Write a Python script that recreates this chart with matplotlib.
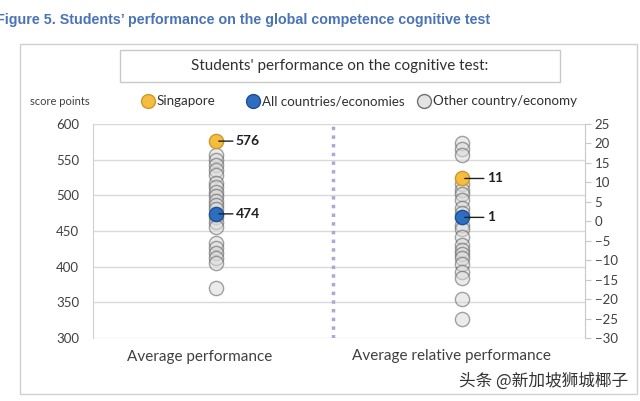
import matplotlib
matplotlib.use("Agg")
import matplotlib.pyplot as plt
from matplotlib.patches import Rectangle

plt.rcParams['font.family'] = ['Lato', 'DejaVu Sans']

# data
categories = ["Average performance", "Average relative performance"]
left_others = [556, 549, 542, 535, 528, 517, 511, 505, 499, 492, 487, 481,
               470, 463, 456, 433, 426, 419, 412, 405, 370]
left_sgp = 576
left_all = 474
right_others = [20, 18.5, 17, 9.5, 8, 7, 5.5, 3.5, 2, -1, -2, -4, -6, -7.5,
                -8.5, -9.5, -11, -13, -14.5, -20, -25]
right_sgp = 11
right_all = 1
left_ticks = [300, 350, 400, 450, 500, 550, 600]
right_ticks = list(range(-30, 30, 5))

grey_face = (0.85, 0.85, 0.85, 0.5)
grey_edge = (0.3, 0.3, 0.3, 0.5)
yellow = "#f5bd3f"
blue = "#2e6ec2"
txt = "#404040"

fig = plt.figure(figsize=(6.4, 4.01), dpi=100)

# outer frame and inner title box
fig.patches.append(Rectangle((20/640, 1-394/401), 617/640, 350/401, transform=fig.transFigure,
                             fill=False, edgecolor="#d0d0d0", linewidth=1))
fig.patches.append(Rectangle((120/640, 1-82/401), 440/640, 32/401, transform=fig.transFigure,
                             fill=False, edgecolor="#c8c8c8", linewidth=1))

fig.text(-0.006, 1-20/401, "Figure 5. Students\u2019 performance on the global competence cognitive test",
         fontsize=10.3, fontweight="bold", color="#4a74b5", va="center",
         family=["Liberation Sans", "DejaVu Sans"])
fig.text(340/640, 1-66/401, "Students' performance on the cognitive test:", fontsize=11,
         color="#303030", ha="center", va="center")

ax = fig.add_axes([93/640, 1-338/401, 492/640, 214/401])
ax.set_xlim(0, 1)
ax.set_ylim(300, 600)
ax.set_yticks(left_ticks)
ax.tick_params(axis="y", length=0, labelsize=9.5, labelcolor=txt, pad=10)
ax.set_xticks([])
for s in ["top", "right", "bottom"]:
    ax.spines[s].set_visible(False)
ax.spines["left"].set_color("#d0d0d0")
ax.grid(axis="y", color="#d9d9d9", linewidth=1)
ax.set_axisbelow(True)
ax.axvline(0.488, color="#a9a9d6", linewidth=2.5, linestyle=(0, (1, 1.5)))

ax2 = ax.twinx()
ax2.set_ylim(-30, 25)
ax2.set_yticks(right_ticks)
ax2.tick_params(axis="y", length=4, color="#c8c8c8", labelsize=9.5, labelcolor=txt, pad=3)
for s in ["top", "left", "bottom"]:
    ax2.spines[s].set_visible(False)
ax2.spines["right"].set_color("#c8c8c8")

ms = 105
ax.scatter([0.25] * len(left_others), left_others, s=ms, facecolor=grey_face,
           edgecolor=grey_edge, linewidth=1, zorder=3)
ax2.scatter([0.75] * len(right_others), right_others, s=ms, facecolor=grey_face,
            edgecolor=grey_edge, linewidth=1, zorder=3)

for a, x, v, c, ec in [(ax, 0.25, left_sgp, yellow, "#c99a2c"), (ax, 0.25, left_all, blue, "#1f4f8f"),
                       (ax2, 0.75, right_sgp, yellow, "#c99a2c"), (ax2, 0.75, right_all, blue, "#1f4f8f")]:
    a.scatter([x], [v], s=ms, facecolor=c, edgecolor=ec, linewidth=1, zorder=4)
    a.annotate(f"{v:g}", xy=(x, v), xytext=(x + 0.04 + (0.01 if a is ax2 else 0), v),
               fontsize=10, fontweight="bold", color="#202020", va="center",
               arrowprops=dict(arrowstyle="-", color="#202020", lw=1, shrinkA=0, shrinkB=2), zorder=5)

# category labels below
fig.text(200/640, 1-357/401, categories[0], fontsize=11, color=txt, ha="center", va="center")
fig.text(451/640, 1-356/401, categories[1], fontsize=11, color=txt, ha="center", va="center")

# legend row
fig.text(30/640, 1-102/401, "score points", fontsize=8, color=txt, va="center")
for x0, c, ec, lab in [(148, yellow, "#c99a2c", "Singapore"), (253, blue, "#1f4f8f", "All countries/economies"),
                       (424, "#e4e4e4", "#707070", "Other country/economy")]:
    fig.add_artist(plt.Line2D([x0/640], [1-101/401], marker="o", markersize=10, markerfacecolor=c,
                              markeredgecolor=ec, transform=fig.transFigure))
    fig.text((x0 + 9)/640, 1-101/401, lab, fontsize=9.6, color="#303030", va="center")

fig.text(628/640, 1-381/401, "头条 @新加坡狮城椰子", fontsize=12, color="#333333", ha="right", va="center",
         family=["Noto Sans CJK SC", "DejaVu Sans"])

fig.savefig("out.png", dpi=100)
